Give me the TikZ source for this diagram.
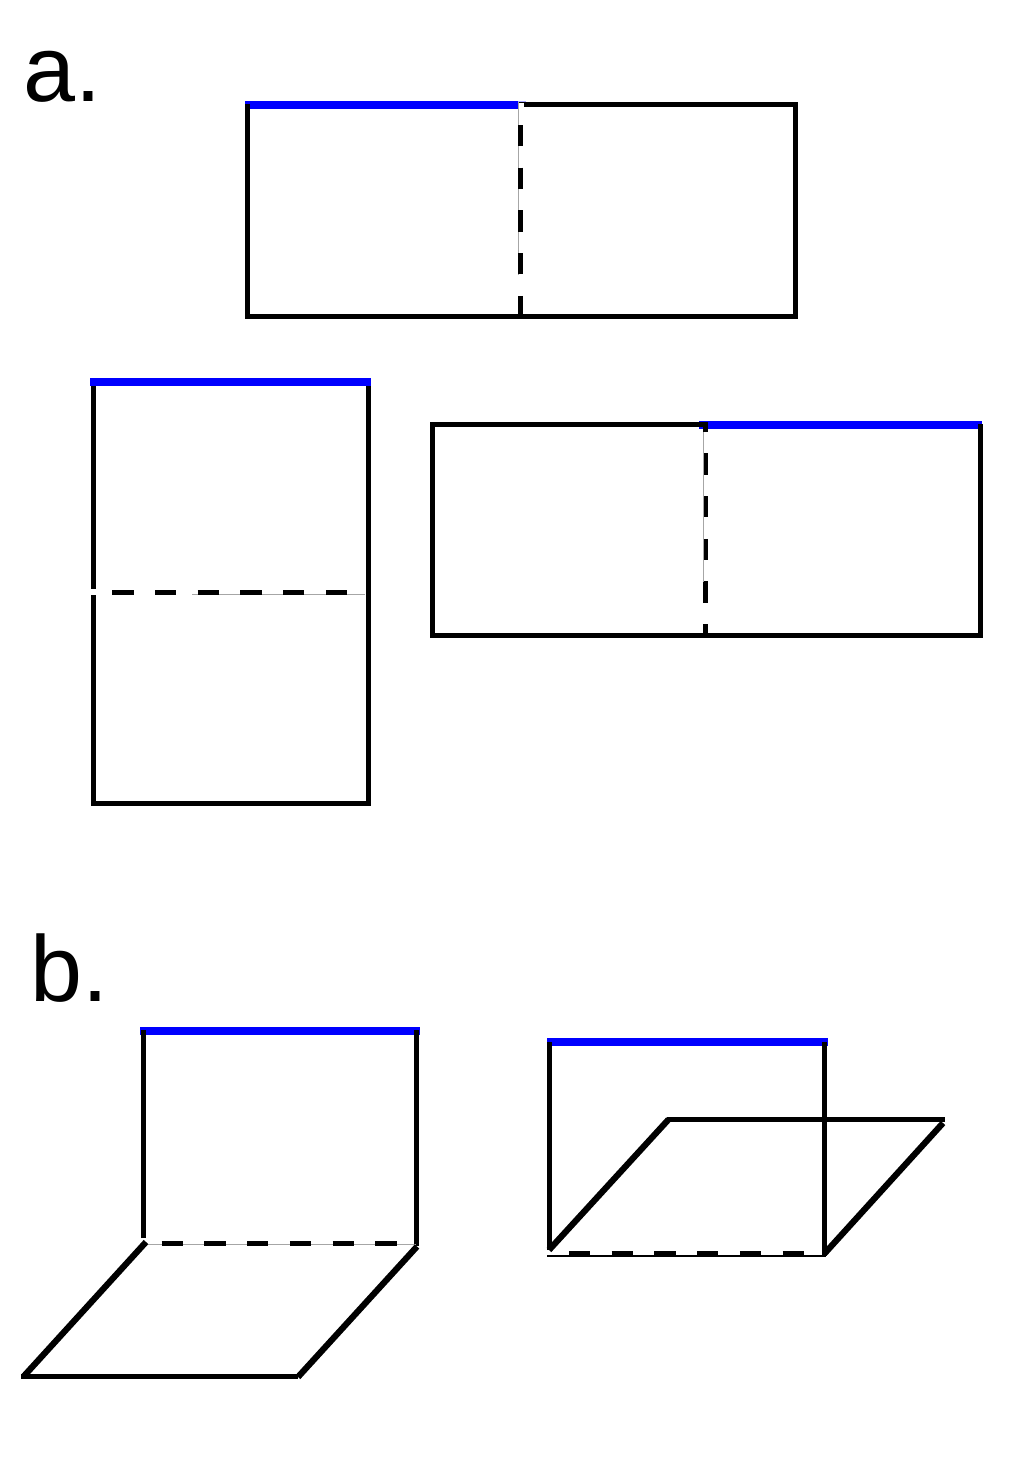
\documentclass[tikz,border=0pt]{standalone}
\usepackage{fontspec}
\setmainfont{Liberation Sans}
\definecolor{foldblue}{RGB}{0,0,255}
\tikzset{
  edgeline/.style={black,line width=5pt,line cap=butt,line join=miter},
  flatline/.style={black,line width=5pt,line cap=butt},
  slantline/.style={black,line width=6.2pt,line cap=butt},
  hingeline/.style={black,line width=5pt,line cap=butt,dash pattern=on 21.35pt off 21.35pt},
  blueline/.style={foldblue,line width=7.6pt,line cap=butt},
  hairline/.style={black!35,line width=1pt},
  panellabel/.style={inner sep=0pt,anchor=base west,font=\fontsize{93.5}{94}\selectfont}
}
\begin{document}
\begin{tikzpicture}[x=1pt,y=-1pt]
\useasboundingbox (0,0) rectangle (1036,1460);
\fill[white] (0,0) rectangle (1036,1460);
% labels
\node[panellabel] (la) at (23.5,101) {a.};
\node[panellabel] (lb) at (30,1001) {b.};
% panel a top
\draw[blueline] (245,104.7) -- (518,104.7);
\draw[foldblue!35,line width=1pt] (518,101) -- (526,101);
\draw[edgeline] (524,104.5) -- (795,104.5) -- (795,316) -- (247,316) -- (247,104);
\draw[black,line width=1.2pt] (518,102.6) -- (524,102.6);
\draw[hairline] (518.7,102) -- (518.7,275);
\draw[hingeline] (520.7,125) -- (520.7,316);
% panel a left
\draw[edgeline] (93,382) -- (93,589);
\draw[edgeline] (93,595) -- (93,803) -- (368,803) -- (368,382);
\draw[blueline] (90,382) -- (371,382);
\draw[hairline] (192,594.7) -- (365,594.7);
\draw[hingeline] (112.3,592.5) -- (368,592.5);
% panel a right
\draw[blueline] (699,424.9) -- (982,424.9);
\draw[edgeline] (708,424.5) -- (432,424.5) -- (432,635) -- (980,635) -- (980,424);
\draw[hingeline,dash pattern=on 10pt off 21.35pt on 21.35pt off 21.35pt on 21.35pt off 21.35pt on 21.35pt off 21.35pt on 21.35pt off 21.35pt on 21.35pt] (705.5,422) -- (705.5,635);
\draw[hairline] (703.3,432) -- (703.3,582);
% panel b left
\draw[blueline] (140,1031) -- (420,1031);
\draw[edgeline] (143,1238) -- (143,1030);
\draw[edgeline] (416,1030) -- (416,1246);
\draw[hairline] (146,1244.7) -- (416,1244.7);
\draw[hingeline] (161.7,1243) -- (414,1243);
\draw[slantline] (146,1242) -- (24,1376);
\draw[flatline] (21,1376.5) -- (298,1376.5);
\draw[slantline] (298,1377) -- (417,1246.5);
% panel b right
\draw[blueline] (547,1042) -- (828,1042);
\draw[edgeline] (549.7,1250) -- (549.7,1042);
\draw[edgeline] (824,1042) -- (824,1256);
\draw[black,line width=1.4pt] (547,1255.8) -- (826,1255.8);
\draw[hingeline] (569,1253) -- (826,1253);
\draw[slantline] (549,1250) -- (668.5,1119.5);
\draw[flatline] (666.5,1119) -- (945,1119);
\draw[slantline] (943,1123) -- (825,1253);
\end{tikzpicture}
\end{document}
